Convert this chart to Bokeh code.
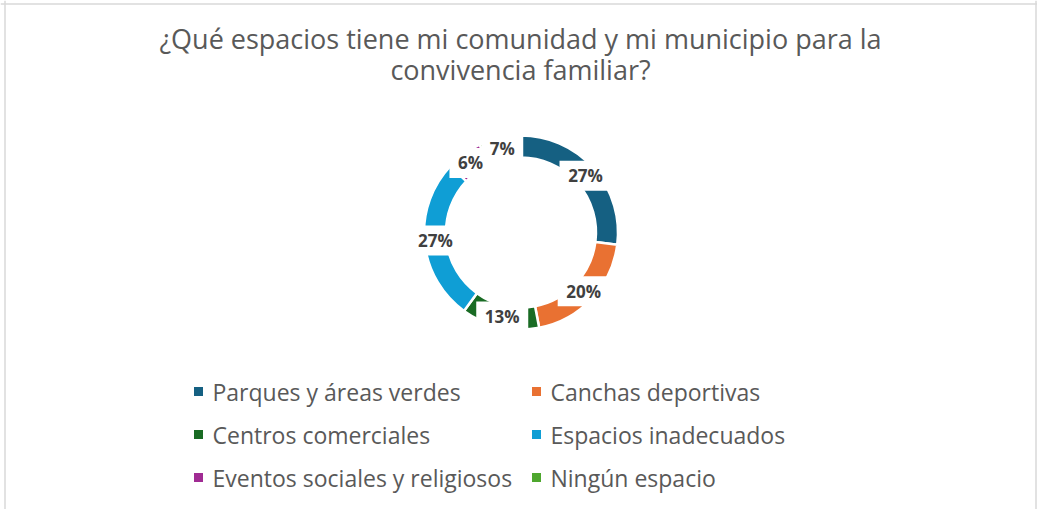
import numpy as np
from bokeh.plotting import figure
from bokeh.models import ColumnDataSource, Span, Range1d
from bokeh.embed import file_html
from bokeh.resources import INLINE
from bokeh.core.properties import value

# ---------------- data ----------------
title_lines = ["¿Qué espacios tiene mi comunidad y mi municipio para la",
               "convivencia familiar?"]
categories = ["Parques y áreas verdes", "Canchas deportivas", "Centros comerciales",
              "Espacios inadecuados", "Eventos sociales y religiosos", "Ningún espacio"]
percent = [27, 20, 13, 27, 6, 7]
colors = ["#156082", "#E97132", "#196B24", "#0F9ED5", "#A02B93", "#4EA72E"]

# ---------------- layout ----------------
W, H = 1037, 509
FONT = "Open Sans"
p = figure(width=W, height=H, x_range=Range1d(0, W), y_range=Range1d(0, H),
           output_backend="svg", toolbar_location=None, min_border=0)
p.axis.visible = False
p.grid.visible = False
p.outline_line_color = None
p.background_fill_color = "white"
p.border_fill_color = "white"

# chart-area border (left, right, top)
for loc in (4.5, 1035.5):
    p.add_layout(Span(location=loc, dimension="height", line_color="#d9d9d9", line_width=1.5))
p.add_layout(Span(location=H - 3.5, dimension="width", line_color="#d9d9d9", line_width=1.5))

# title
p.text(x=[520, 520], y=[H - 38, H - 69], text=title_lines,
       text_font=value(FONT), text_font_size="27px", text_color="#595959",
       text_align="center", text_baseline="middle")

# donut
cx, cy = 520.5, H - 232
r_in, r_out = 75, 97
vals = np.array(percent, dtype=float)
frac = vals / vals.sum()
cum = np.concatenate([[0.0], np.cumsum(frac)])
th1 = cum[:-1] * 2 * np.pi
th2 = cum[1:] * 2 * np.pi
src = ColumnDataSource(dict(start=np.pi / 2 - th2, end=np.pi / 2 - th1, color=colors))
p.annular_wedge(x=cx, y=cy, inner_radius=r_in, outer_radius=r_out,
                start_angle="start", end_angle="end", fill_color="color",
                line_color="white", line_width=2.5, source=src)

# data labels at ring centre line with white boxes
mid = (th1 + th2) / 2
r_lab = (r_in + r_out) / 2
labels = [f"{v}%" for v in percent]
lsrc = ColumnDataSource(dict(
    x=cx + r_lab * np.sin(mid), y=cy + r_lab * np.cos(mid), text=labels,
    w=[22 + 10 * len(t) for t in labels]))
p.rect(x="x", y="y", width="w", height=30, fill_color="white", line_color=None, source=lsrc)
p.text(x="x", y="y", text="text", source=lsrc, text_font=value(FONT),
       text_font_style="bold", text_font_size="17px", text_color="#404040",
       text_align="center", text_baseline="middle")

# legend: 2 columns x 3 rows
col_x = [198, 536]
row_y = [H - 391, H - 434, H - 477]
idx = np.arange(len(categories))
lgx = np.array([col_x[i % 2] for i in idx], dtype=float)
lgy = np.array([row_y[i // 2] for i in idx], dtype=float)
p.scatter(x=lgx, y=lgy, marker="square", size=9, fill_color=colors, line_color=None)
p.text(x=lgx + 14, y=lgy, text=categories, text_font=value(FONT), text_font_size="23px",
       text_color="#595959", text_align="left", text_baseline="middle")

open("out.html", "w").write(file_html(p, INLINE))
